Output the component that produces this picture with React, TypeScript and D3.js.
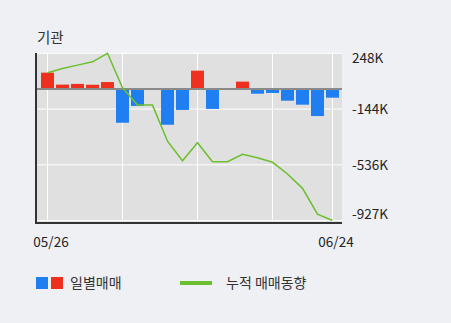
import React from "react";
import * as d3 from "d3";

const firstLabel = "05/26";
const lastLabel = "06/24";
const daily = [112, 28, 33, 27, 46, -240, -122, 0, -254, -150, 126, -143, 0, 49, -36, -31, -85, -113, -193, -64];
const cumulative = [112, 141, 165, 188, 248, 6, -116, -116, -370, -507, -380, -514, -514, -462, -486, -518, -600, -701, -882, -927];
const tickValues = [248, -144, -536, -927];
const tickLabels = ["248K", "-144K", "-536K", "-927K"];
const gridIdx = [0, 5, 10, 15, 19];

const W = 451, H = 323;
const L = 36, R = 342, T = 53, B = 223;
const font = "'Noto Sans CJK KR', 'Noto Sans', sans-serif";

export default function App() {
  const idx = d3.range(daily.length);
  const x = d3.scaleBand<number>().domain(idx).range([40, 340]).paddingInner(2 / 15).paddingOuter(1 / 15);
  const cx = (i: number) => (x(i) as number) + x.bandwidth() / 2;
  const y = d3.scaleLinear().domain([-927, 248]).range([220.5, 53.3]);
  const line = d3.line<number>().x((_, i) => cx(i)).y((d) => y(d));
  const labelOffsets = [6, 1.5, 1.5, -5];
  return (
    <div style={{ position: "fixed", left: 0, top: 0, width: W, height: H, background: "#eef0f4" }}>
      <svg width={W} height={H} style={{ display: "block", fontFamily: font }}>
        <rect x={0} y={0} width={W} height={H} fill="#eef0f4" />
        <text x={37} y={43} fontSize={14.5} fill="#333">기관</text>
        <rect x={L} y={T} width={R - L} height={B - T} fill="#e0e0e0" />
        {tickValues.map((v, i) => (
          <line key={"h" + i} x1={L} x2={R} y1={y(v)} y2={y(v)} stroke="#fff" strokeWidth={1} />
        ))}
        {gridIdx.map((i) => (
          <line key={"v" + i} x1={cx(i)} x2={cx(i)} y1={T} y2={B} stroke="#fff" strokeWidth={1} />
        ))}
        {daily.map((v, i) => (
          <rect key={"b" + i} x={x(i)} width={x.bandwidth()} y={y(Math.max(0, v))}
            height={Math.abs(y(v) - y(0))} fill={v >= 0 ? "#f0301e" : "#1f7ef0"} />
        ))}
        <line x1={L} x2={R} y1={y(0) + 0.5} y2={y(0) + 0.5} stroke="#8a8a8a" strokeWidth={2} />
        <path d={line(cumulative) || ""} fill="none" stroke="#6cbf2e" strokeWidth={1.5} />
        <line x1={L} x2={L} y1={T} y2={B + 1} stroke="#333" strokeWidth={2} />
        <line x1={L - 1} x2={R} y1={B} y2={B} stroke="#333" strokeWidth={2} />
        {tickValues.map((v, i) => (
          <text key={"t" + i} x={352} y={y(v) + labelOffsets[i]} dominantBaseline="middle" fontSize={13.5} fill="#222">{tickLabels[i]}</text>
        ))}
        <text x={cx(0) + 3.5} y={247} textAnchor="middle" fontSize={13.5} fill="#222">{firstLabel}</text>
        <text x={cx(daily.length - 1) + 3.5} y={247} textAnchor="middle" fontSize={13.5} fill="#222">{lastLabel}</text>
        <rect x={36} y={277} width={12} height={12} fill="#1f7ef0" />
        <rect x={51} y={277} width={12} height={12} fill="#f0301e" />
        <text x={70} y={288} fontSize={14} fill="#333">일별매매</text>
        <line x1={180} x2={212} y1={283} y2={283} stroke="#6cbf2e" strokeWidth={4} />
        <text x={226} y={288} fontSize={14} fill="#333">누적 매매동향</text>
      </svg>
    </div>
  );
}
